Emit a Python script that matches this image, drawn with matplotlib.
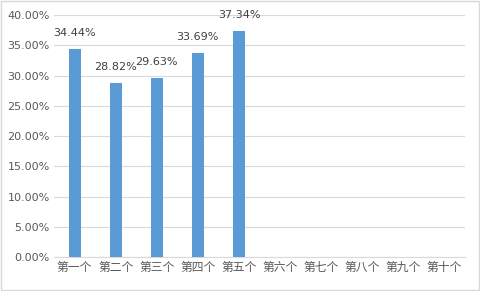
import matplotlib
matplotlib.use("Agg")
import matplotlib.pyplot as plt
import numpy as np

plt.rcParams['font.family'] = ['Noto Sans CJK SC', 'DejaVu Sans']

categories = ["第一个", "第二个", "第三个", "第四个", "第五个", "第六个", "第七个", "第八个", "第九个", "第十个"]
values = [34.44, 28.82, 29.63, 33.69, 37.34, np.nan, np.nan, np.nan, np.nan, np.nan]
yticks = [0, 5, 10, 15, 20, 25, 30, 35, 40]

fig = plt.figure(figsize=(4.8, 2.91), dpi=100)
fig.patch.set_facecolor('white')
ax = fig.add_axes([0.1125, 0.1168, 0.8563, 0.8312])

x = np.arange(len(categories))
ax.bar(x, values, width=0.29, color='#5B9BD5', zorder=3)
for xi, v in zip(x, values):
    if not np.isnan(v):
        ax.annotate(f"{v:.2f}%", (xi, v), xytext=(0, 8), textcoords='offset points',
                    ha='center', va='bottom', fontsize=8, color='#404040',
                    family='DejaVu Sans')

ax.set_xlim(-0.5, len(categories) - 0.5)
ax.set_ylim(0, 40)
ax.set_yticks(yticks)
ax.set_yticklabels([f"{t:.2f}%" for t in yticks], fontsize=8, color='#595959', family='DejaVu Sans')
ax.set_xticks(x)
ax.set_xticklabels(categories, fontsize=8.5, color='#595959', va='top')
ax.tick_params(axis='both', length=0, pad=3)
ax.grid(axis='y', color='#D9D9D9', linewidth=0.8, zorder=0)
for s in ['top', 'right', 'left']:
    ax.spines[s].set_visible(False)
ax.spines['bottom'].set_color('#D9D9D9')
ax.spines['bottom'].set_linewidth(0.8)

border = plt.Rectangle((0.002, 0.003), 0.996, 0.994, transform=fig.transFigure,
                       fill=False, edgecolor='#D9D9D9', linewidth=1)
fig.patches.append(border)

fig.savefig('out.png', dpi=100)
